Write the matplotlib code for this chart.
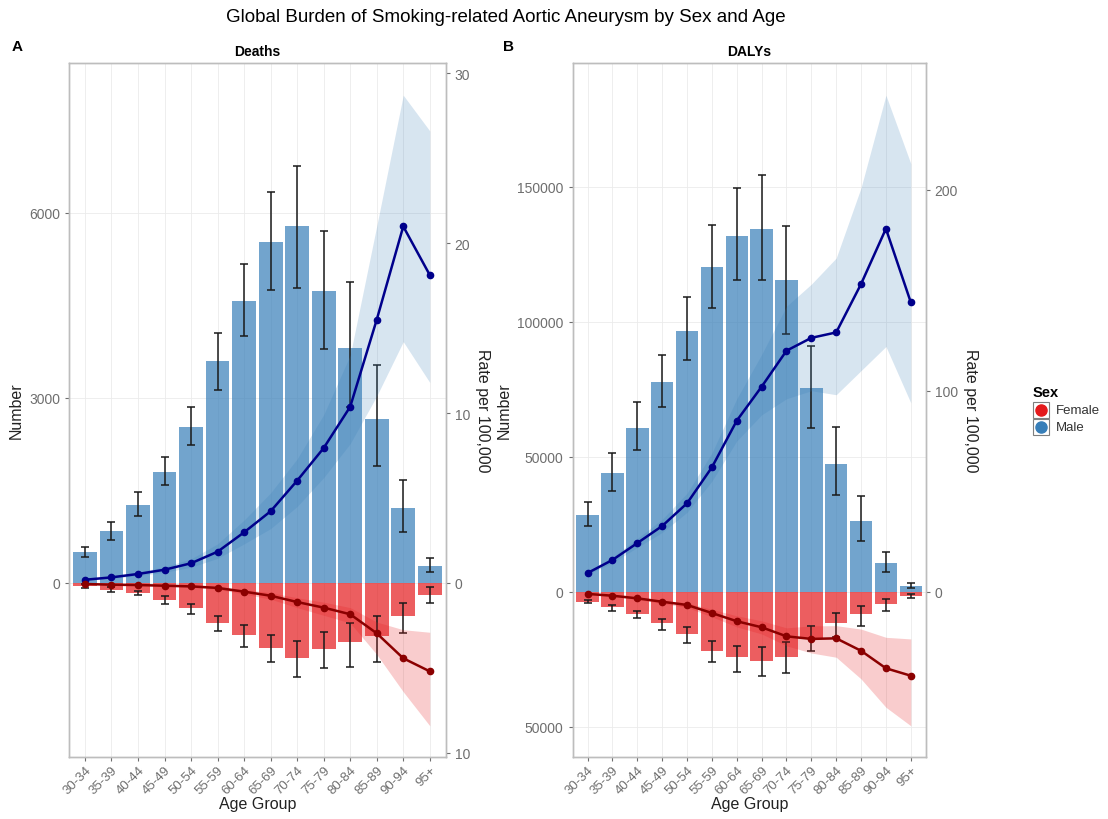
import numpy as np
import matplotlib.pyplot as plt
from matplotlib.patches import Rectangle
from matplotlib.lines import Line2D
from matplotlib.ticker import FuncFormatter, FixedLocator

plt.rcParams['font.family'] = ['Liberation Sans', 'DejaVu Sans']

ages = ['30-34', '35-39', '40-44', '45-49', '50-54', '55-59', '60-64',
        '65-69', '70-74', '75-79', '80-84', '85-89', '90-94', '95+']

# Deaths: numbers (female stored as magnitudes, drawn below zero)
deaths_m = [498, 838, 1270, 1805, 2535, 3595, 4578, 5525, 5784, 4740, 3806, 2659, 1216, 270]
deaths_m_lo = [417, 702, 1091, 1589, 2243, 3130, 4011, 4751, 4779, 3795, 2849, 1902, 832, 184]
deaths_m_hi = [579, 984, 1470, 2048, 2859, 4054, 5173, 6345, 6757, 5713, 4876, 3540, 1675, 400]
deaths_f = [54, 108, 167, 270, 405, 649, 838, 1054, 1216, 1070, 951, 854, 530, 190]
deaths_f_lo = [20, 70, 124, 216, 340, 530, 681, 838, 935, 789, 649, 541, 324, 65]
deaths_f_hi = [80, 140, 200, 340, 503, 784, 1032, 1286, 1530, 1384, 1357, 1286, 811, 320]

# Deaths: rate per 100,000
drate_m = [0.19, 0.33, 0.53, 0.78, 1.16, 1.84, 2.98, 4.22, 6.02, 7.94, 10.37, 15.49, 20.98, 18.12]
drate_m_lo = [0.15, 0.27, 0.43, 0.63, 0.93, 1.45, 2.3, 3.2, 4.5, 6.2, 8.2, 11.0, 14.2, 11.8]
drate_m_hi = [0.25, 0.4, 0.65, 0.95, 1.42, 2.3, 3.7, 5.3, 7.3, 9.9, 13.4, 21.0, 28.7, 26.6]
drate_f = [0.06, 0.10, 0.12, 0.16, 0.20, 0.29, 0.51, 0.75, 1.12, 1.45, 1.84, 2.96, 4.43, 5.20]
drate_f_lo = [0.04, 0.08, 0.09, 0.12, 0.15, 0.22, 0.39, 0.57, 0.87, 1.13, 1.45, 2.3, 2.75, 2.9]
drate_f_hi = [0.08, 0.13, 0.15, 0.2, 0.26, 0.37, 0.65, 0.95, 1.45, 1.9, 2.35, 4.2, 6.4, 8.4]

# DALYs: numbers
daly_m = [28519, 43963, 60741, 77778, 96667, 120150, 131850, 134330, 115560, 75440, 47300, 26300, 10510, 2220]
daly_m_lo = [24444, 37185, 52481, 68296, 85926, 104960, 115440, 115440, 95440, 60520, 35810, 18890, 7180, 1260]
daly_m_hi = [33333, 51370, 70259, 87778, 109259, 135810, 149400, 154440, 135330, 91110, 60890, 35330, 14590, 3220]
daly_f = [3704, 5790, 8260, 11590, 15670, 21850, 24300, 25560, 24300, 17260, 11590, 8260, 4560, 1480]
daly_f_lo = [3210, 4930, 7260, 10110, 13190, 18150, 20000, 20590, 18740, 12590, 8000, 5180, 2700, 740]
daly_f_hi = [4200, 7040, 9850, 14070, 19000, 26150, 29630, 31110, 30220, 21850, 16800, 12810, 7040, 2220]

# DALYs: rate per 100,000
lrate_m = [9.3, 15.8, 24.2, 32.7, 44.0, 61.9, 85.1, 102.0, 119.9, 126.3, 129.0, 153.1, 180.6, 144.0]
lrate_m_lo = [8.5, 14.5, 22.0, 29.5, 39.5, 55.0, 75.0, 88.0, 96.0, 100.0, 98.0, 110.0, 122.0, 94.0]
lrate_m_hi = [10.0, 17.2, 26.5, 36.0, 49.0, 69.0, 96.0, 118.0, 142.0, 153.0, 166.0, 201.0, 247.0, 213.0]
lrate_f = [1.1, 2.0, 3.3, 5.0, 6.6, 10.6, 14.7, 17.7, 22.2, 23.5, 23.2, 29.4, 38.1, 41.8]
lrate_f_lo = [0.9, 1.7, 2.8, 4.2, 5.6, 8.8, 12.0, 14.5, 18.0, 17.0, 16.9, 18.6, 22.7, 23.5]
lrate_f_hi = [1.3, 2.4, 3.9, 5.9, 7.8, 12.5, 17.5, 21.0, 26.9, 30.5, 32.6, 43.4, 57.5, 66.7]

male_col = '#377EB8'
female_col = '#E41A1C'
tick_col = '#6E6E6E'
grid_col = '#EBEBEB'

W, H = 1108, 820
fig = plt.figure(figsize=(W / 100, H / 100), dpi=100)


def panel(rect, title, num, rate, ylim, scale, yticks, rticks):
    m, m_lo, m_hi, f, f_lo, f_hi = [np.array(v, dtype=float) for v in num]
    r, r_lo, r_hi, rf, rf_lo, rf_hi = [np.array(v, dtype=float) for v in rate]
    x = np.arange(len(ages))

    ax = fig.add_axes(rect)
    ax.set_axisbelow(True)
    ax.bar(x, m, width=0.9, color=male_col, alpha=0.7, lw=0)
    ax.bar(x, -f, width=0.9, color=female_col, alpha=0.7, lw=0)
    ax.errorbar(x, m, yerr=[m - m_lo, m_hi - m], fmt='none', ecolor='#1a1a1a',
                elinewidth=1.1, capsize=3, capthick=1.1, zorder=3)
    ax.errorbar(x, -f, yerr=[f_hi - f, f - f_lo], fmt='none', ecolor='#1a1a1a',
                elinewidth=1.1, capsize=3, capthick=1.1, zorder=3)

    ax.set_xlim(-0.6, len(ages) - 0.4)
    ax.set_ylim(*ylim)
    ax.set_xticks(x)
    ax.set_xticklabels(ages, rotation=45, ha='right', rotation_mode='anchor')
    ax.yaxis.set_major_locator(FixedLocator(yticks))
    ax.yaxis.set_major_formatter(FuncFormatter(lambda v, p: f'{abs(v):.0f}'))
    ax.grid(True, color=grid_col, lw=0.6)
    ax.set_xlabel('Age Group', fontsize=11.5, color='#222222', labelpad=0)
    ax.set_ylabel('Number', fontsize=11.5, color='#222222', labelpad=4)
    ax.set_title(title, fontsize=10, weight='bold', pad=6)

    ax2 = ax.twinx()
    ax2.set_ylim(ylim[0] / scale, ylim[1] / scale)
    ax2.fill_between(x, r_lo, r_hi, color=male_col, alpha=0.2, lw=0)
    ax2.fill_between(x, -rf_lo, -rf_hi, color=female_col, alpha=0.22, lw=0)
    ax2.plot(x, r, color='#00008B', lw=1.8, marker='o', ms=4.5)
    ax2.plot(x, -rf, color='#8B0000', lw=1.8, marker='o', ms=4.5)
    ax2.yaxis.set_major_locator(FixedLocator(rticks))
    ax2.yaxis.set_major_formatter(FuncFormatter(lambda v, p: f'{abs(v):.0f}'))
    ax2.set_ylabel('Rate per 100,000', fontsize=11.5, color='#222222',
                   rotation=270, labelpad=14)

    for a in (ax, ax2):
        for s in a.spines.values():
            s.set_color('#BDBDBD')
            s.set_linewidth(1)
        a.tick_params(colors=tick_col, labelsize=10, length=3, width=0.8,
                      labelcolor=tick_col)
    ax.tick_params(axis='x', labelsize=9.5, pad=2)
    return ax


panel([69 / W, 1 - 757.7 / H, 376.7 / W, 693.7 / H], 'Deaths',
      [deaths_m, deaths_m_lo, deaths_m_hi, deaths_f, deaths_f_lo, deaths_f_hi],
      [drate_m, drate_m_lo, drate_m_hi, drate_f, drate_f_lo, drate_f_hi],
      (-2817, 8432), 275.6, [0, 3000, 6000], [-10, 0, 10, 20, 30])

panel([572.7 / W, 1 - 757.7 / H, 353 / W, 693.7 / H], 'DALYs',
      [daly_m, daly_m_lo, daly_m_hi, daly_f, daly_f_lo, daly_f_hi],
      [lrate_m, lrate_m_lo, lrate_m_hi, lrate_f, lrate_f_lo, lrate_f_hi],
      (-61111, 195815), 744.4, [-50000, 0, 50000, 100000, 150000], [0, 100, 200])

fig.text(506 / W, 1 - 17 / H, 'Global Burden of Smoking-related Aortic Aneurysm by Sex and Age',
         ha='center', va='center', fontsize=13.5)
fig.text(17 / W, 1 - 47 / H, 'A', ha='center', va='center', fontsize=11, weight='bold')
fig.text(508 / W, 1 - 47 / H, 'B', ha='center', va='center', fontsize=11, weight='bold')

# legend
fig.text(1033 / W, 1 - 393 / H, 'Sex', ha='left', va='center', fontsize=10.5, weight='bold')
for i, (lab, col) in enumerate([('Female', female_col), ('Male', male_col)]):
    yc = 411 + 17 * i
    fig.add_artist(Rectangle(((1033) / W, 1 - (yc + 8) / H), 16 / W, 16 / H,
                             transform=fig.transFigure, facecolor='white',
                             edgecolor='#7F7F7F', lw=0.8))
    fig.add_artist(Line2D([1041 / W], [1 - yc / H], transform=fig.transFigure,
                          marker='o', ms=8, color=col, lw=0))
    fig.text(1056 / W, 1 - yc / H, lab, ha='left', va='center', fontsize=9.5, color='#333333')

fig.savefig('out.png', dpi=100)
